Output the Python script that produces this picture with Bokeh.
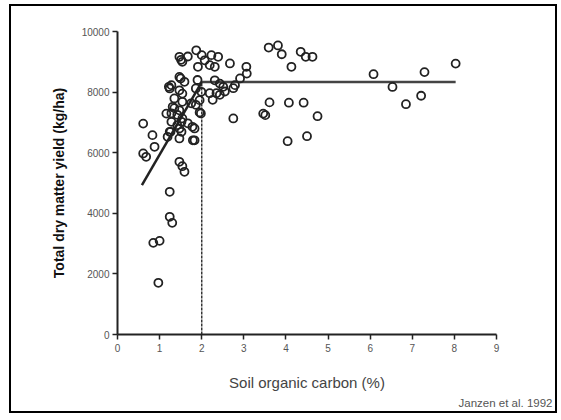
from bokeh.plotting import figure
from bokeh.models import Range1d, FixedTicker, Title
from bokeh.embed import file_html
from bokeh.resources import INLINE

# Soil organic carbon (%) and total dry matter yield (kg/ha)
soc = [0.61, 0.83, 0.88, 0.61, 0.68, 0.85, 1.00, 0.97, 1.24, 1.24, 1.30, 1.47, 1.54, 1.59,
       1.16, 1.28, 1.35, 1.52, 1.47, 1.67, 1.83, 1.26, 1.19, 1.47, 1.83, 1.95, 1.42, 1.54,
       1.86, 1.31, 1.47, 1.75, 1.35, 1.54, 1.95, 1.28, 1.22, 1.47, 1.54, 1.90, 1.86, 1.99,
       1.50, 1.59, 1.47, 1.54, 1.87, 2.00, 2.07, 2.23, 2.39, 2.19, 2.31, 1.91, 2.31, 2.43,
       2.19, 2.35, 2.26, 2.43, 2.55, 2.75, 2.79, 2.51, 2.91, 3.06, 3.07, 2.67, 2.75, 1.67,
       1.51, 1.47, 1.24, 1.28, 1.42, 1.78, 1.24, 1.52, 1.79, 1.98,
       3.59, 3.81, 3.90, 4.35, 4.47, 4.63, 4.13, 3.61, 4.07, 4.42, 4.75, 3.46, 3.51, 4.04,
       4.50, 6.08, 6.53, 6.85, 7.29, 7.21, 8.03]
yld = [6960, 6580, 6195, 5975, 5865, 3025, 3090, 1705, 4710, 3885, 3685, 5700, 5555, 5370,
       7290, 7300, 7470, 7020, 6800, 6970, 6800, 6690, 6525, 6470, 6410, 7330, 7250, 7130,
       7580, 7515, 7400, 7630, 7790, 7680, 7735, 8230, 8175, 8060, 7950, 8400, 8120, 8010,
       8450, 8340, 9165, 9000, 9380, 9220, 9050, 9220, 9165, 8890, 8835, 8835, 8390, 8280,
       7965, 7965, 7745, 7910, 8020, 8130, 8230, 8175, 8450, 8835, 8610, 8945, 7130, 9175,
       9065, 8500, 8120, 7020, 6910, 6855, 6690, 6690, 6410, 7295,
       9470, 9540, 9250, 9330, 9165, 9165, 8835, 7660, 7650, 7650, 7205, 7290, 7240, 6380,
       6545, 8590, 8170, 7600, 8660, 7880, 8940]

# fitted linear-plateau model
slope_x = [0.58, 2.0]
slope_y = [4930, 8330]
plateau_x = [2.0, 8.03]
plateau_y = [8330, 8330]
critical_x = [2.0, 2.0]
critical_y = [0, 8330]

x_ticks = [0, 1, 2, 3, 4, 5, 6, 7, 8, 9]
y_ticks = [0, 2000, 4000, 6000, 8000, 10000]

FONT = "Liberation Sans"

p = figure(width=544, height=404, output_backend="svg", toolbar_location=None,
           x_range=Range1d(0, 9), y_range=Range1d(0, 10000),
           frame_width=379, frame_height=303,
           min_border_left=106, min_border_top=25, min_border_right=59, min_border_bottom=77,
           styles={"border": "2px solid black", "margin-left": "9px", "margin-top": "4px"})
p.outline_line_color = None
p.grid.visible = False
p.background_fill_color = "white"
p.border_fill_color = "white"

for ax in (p.xaxis[0], p.yaxis[0]):
    ax.axis_line_width = 2
    ax.axis_line_color = "#222222"
    ax.major_tick_line_width = 1.5
    ax.major_tick_line_color = "#222222"
    ax.major_tick_in = 0
    ax.major_tick_out = 5
    ax.minor_tick_line_color = None
    ax.major_label_text_font = FONT
    ax.major_label_text_font_size = "10px"
    ax.major_label_text_color = "#555555"

p.xaxis.ticker = FixedTicker(ticks=x_ticks)
p.yaxis.ticker = FixedTicker(ticks=y_ticks)
p.xaxis.major_label_standoff = 4
p.yaxis.major_label_standoff = 3

p.xaxis.axis_label = "Soil organic carbon (%)"
p.xaxis.axis_label_text_font = FONT
p.xaxis.axis_label_text_font_style = "normal"
p.xaxis.axis_label_text_font_size = "15px"
p.xaxis.axis_label_text_color = "#444444"
p.xaxis.axis_label_standoff = 19

p.yaxis.axis_label = "Total dry matter yield (kg/ha)"
p.yaxis.axis_label_text_font = FONT
p.yaxis.axis_label_text_font_style = "bold"
p.yaxis.axis_label_text_font_size = "14px"
p.yaxis.axis_label_text_color = "#111111"
p.yaxis.axis_label_standoff = 12

p.line(critical_x, critical_y, line_color="#333333", line_width=1.5, line_dash="3 1")
p.line(plateau_x, plateau_y, line_color="#444444", line_width=2.5)
p.line(slope_x, slope_y, line_color="#222222", line_width=2.5)

p.scatter(soc, yld, marker="circle", size=8, fill_color=None,
          line_color="#222222", line_width=1.8)

cite = Title(text="Janzen et al. 1992", align="right", offset=-56,
             text_font=FONT, text_font_size="11.5px", text_color="#555555",
             text_font_style="normal", standoff=2)
p.add_layout(cite, "below")

open("out.html", "w").write(file_html(p, INLINE))
